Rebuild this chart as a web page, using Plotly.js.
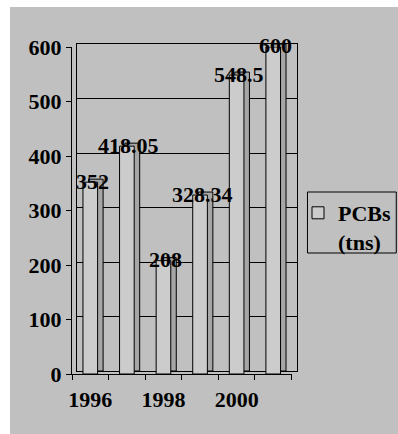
<!DOCTYPE html>
<html>
<head>
<meta charset="utf-8">
<script src="https://cdn.plot.ly/plotly-3.0.1.min.js"></script>
<style>
  html, body { margin: 0; padding: 0; background: #ffffff; width: 398px; height: 434px; overflow: hidden; }
  #chart { position: absolute; left: 10px; top: 7px; width: 388px; height: 427px; }
</style>
</head>
<body>
<div id="chart"></div>
<script>
const years = [1996, 1997, 1998, 1999, 2000, 2001];
const pcbs = [352, 418.05, 208, 328.34, 548.5, 600];
const valueLabels = ['352', '418.05', '208', '328.34', '548.5', '600'];
const xTickYears = [1996, 1998, 2000];
const yTicks = [0, 100, 200, 300, 400, 500, 600];
const seriesName = 'PCBs<br>(tns)';

const fontFam = 'Liberation Serif, Times New Roman, serif';
const bigFont = { family: fontFam, size: 22, color: '#000000', weight: 700 };

const sideTrace = {
  type: 'bar', x: years, y: pcbs, xaxis: 'x', yaxis: 'y',
  width: 0.4,
  marker: { color: '#a6a6a6', line: { color: '#000000', width: 1 } },
  showlegend: false, hoverinfo: 'skip'
};
const frontTrace = {
  type: 'bar', x: years, y: pcbs, xaxis: 'x2', yaxis: 'y2',
  name: seriesName, width: 0.4,
  marker: { color: '#cccccc', line: { color: '#000000', width: 1 } },
  hoverinfo: 'skip'
};

const plotL = 62, plotB = 60, plotT = 37;
const plotW = 388 - plotL - 100.5;
const plotH = 427 - plotT - plotB;

const annotations = years.map((yr, i) => ({
  x: yr, y: pcbs[i], xref: 'x2', yref: 'y2', text: valueLabels[i],
  showarrow: false, font: bigFont, yanchor: 'middle', xanchor: 'center', xshift: 2, yshift: 1
}));

// legend frame (page px 308..397 x 192..253, chart div offset 10,7)
const legendBox = {
  type: 'rect', xref: 'paper', yref: 'paper',
  x0: (298 - plotL) / plotW, x1: (387 - plotL) / plotW,
  y0: (427 - plotB - 246) / plotH, y1: (427 - plotB - 185) / plotH,
  line: { color: '#000000', width: 1 }, fillcolor: 'rgba(0,0,0,0)', layer: 'above'
};

const layout = {
  width: 388, height: 427,
  margin: { l: plotL, r: 100.5, t: plotT, b: plotB, pad: 0 },
  paper_bgcolor: '#c0c0c0', plot_bgcolor: 'rgba(0,0,0,0)',
  barmode: 'overlay',
  showlegend: true,
  font: bigFont,
  xaxis: {
    domain: [5.5 / plotW, 1], anchor: 'y', range: [1995.5, 2001.5],
    showticklabels: false, showgrid: false, zeroline: false,
    showline: true, linecolor: '#000000', linewidth: 1, mirror: true, ticks: ''
  },
  yaxis: {
    domain: [3 / plotH, 1], anchor: 'x', range: [0, 600],
    tickvals: yTicks, showticklabels: false, showgrid: true, gridcolor: '#000000', gridwidth: 1,
    zeroline: false, showline: true, linecolor: '#000000', linewidth: 1, mirror: true, ticks: ''
  },
  xaxis2: {
    domain: [0, 220 / plotW], anchor: 'y2', range: [1995.5, 2001.5],
    tickvals: xTickYears, ticktext: xTickYears.map(String), ticks: '',
    ticklabelstandoff: 6,
    minor: { ticks: 'outside', ticklen: 5, tickcolor: '#000000', tick0: 1995.5, dtick: 1, showgrid: false },
    showgrid: false, zeroline: false, showline: true, linecolor: '#000000', linewidth: 1,
    tickfont: bigFont
  },
  yaxis2: {
    domain: [0, (plotH - 3) / plotH], anchor: 'x2', range: [0, 600],
    tickvals: yTicks, ticks: 'outside', ticklen: 5, tickcolor: '#000000',
    showgrid: false, zeroline: false, showline: true, linecolor: '#000000', linewidth: 1,
    tickfont: bigFont
  },
  legend: {
    xref: 'container', yref: 'container',
    x: 288 / 388, y: 1 - (192 - 7) / 427, xanchor: 'left', yanchor: 'top',
    borderwidth: 0, bgcolor: 'rgba(0,0,0,0)',
    font: bigFont, valign: 'top'
  },
  shapes: [legendBox],
  annotations: annotations
};

Plotly.newPlot('chart', [sideTrace, frontTrace], layout, { displayModeBar: false, staticPlot: true });
</script>
</body>
</html>
